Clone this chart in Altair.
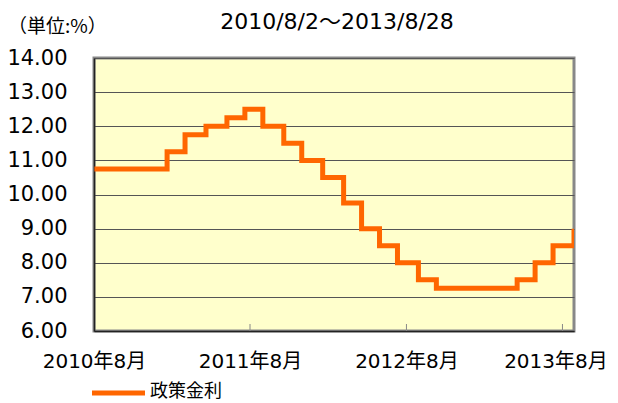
import altair as alt
import pandas as pd

dates = ["2010-08-02", "2011-01-19", "2011-03-02", "2011-04-20", "2011-06-08",
         "2011-07-20", "2011-08-31", "2011-10-19", "2011-11-30", "2012-01-18",
         "2012-03-07", "2012-04-18", "2012-05-30", "2012-07-11", "2012-08-29",
         "2012-10-10", "2013-04-17", "2013-05-29", "2013-07-10", "2013-08-28"]
rates = [10.75, 11.25, 11.75, 12.00, 12.25, 12.50, 12.00, 11.50, 11.00, 10.50,
         9.75, 9.00, 8.50, 8.00, 7.50, 7.25, 7.50, 8.00, 8.50, 9.00]
tick_dates = ["2010-08-01", "2011-08-01", "2012-08-01", "2013-08-01"]
y_ticks = [6, 7, 8, 9, 10, 11, 12, 13, 14]
series_name = "政策金利"
title_text = "2010/8/2～2013/8/28"
unit_text = "（単位:%）"

W, H = 480, 273
FONT = "DejaVu Sans, Noto Sans CJK JP"

df = pd.DataFrame({"date": dates, "rate": rates})
ticks_df = pd.DataFrame({"date": tick_dates[1:]})

xscale = alt.Scale(type="utc",
                   domain=[alt.DateTime(year=2010, month=8, date=1, utc=True),
                           alt.DateTime(year=2013, month=8, date=28, utc=True)])
yscale = alt.Scale(domain=[6, 14], nice=False, zero=False)

tick_vals = [alt.DateTime(year=int(d[:4]), month=int(d[5:7]), date=int(d[8:]), utc=True)
             for d in tick_dates]

line = alt.Chart(df).mark_line(
    interpolate="step-after", color="#FF6600", strokeWidth=5, strokeJoin="miter",
    strokeCap="butt", clip=True
).encode(
    x=alt.X("date:T", scale=xscale, title=None,
            axis=alt.Axis(values=tick_vals, format="%Y年%-m月",
                          ticks=False, grid=False, labelFontSize=20, labelFont=FONT,
                          labelColor="#000", labelPadding=20, domainColor="#222",
                          domainWidth=1.5, labelFlush=False,
                          labelOffset={"condition": {"test": "datum.value > 1356998400000",
                                                     "value": -7}, "value": 0})),
    y=alt.Y("rate:Q", scale=yscale, title=None,
            axis=alt.Axis(values=y_ticks, format=".2f",
                          ticks=False, grid=True, gridColor="#555", gridWidth=1,
                          labelFontSize=21, labelFont=FONT, labelColor="#000",
                          labelPadding=27, domainColor="#222", domainWidth=1.5)),
)

tick_marks = alt.Chart(ticks_df).mark_rule(color="#888", strokeWidth=1).encode(
    x=alt.X("date:T", scale=xscale),
    y=alt.value(H - 7), y2=alt.value(H),
)

legend_line = alt.Chart(pd.DataFrame({"k": [series_name]})).mark_rule(
    color="#FF6600", strokeWidth=5
).encode(x=alt.value(-2), x2=alt.value(51), y=alt.value(335))

legend_text = alt.Chart(pd.DataFrame({"k": [series_name]})).mark_text(
    align="left", baseline="middle", fontSize=18, font="Noto Sans CJK JP", color="#000"
).encode(text="k:N", x=alt.value(56), y=alt.value(334))

title = alt.Chart(pd.DataFrame({"t": [title_text]})).mark_text(
    align="center", baseline="middle", fontSize=22, font=FONT, color="#000"
).encode(text="t:N", x=alt.value(W / 2 + 3), y=alt.value(-36))

unit = alt.Chart(pd.DataFrame({"t": [unit_text]})).mark_text(
    align="left", baseline="middle", fontSize=19, font="Noto Sans CJK JP", color="#000"
).encode(text="t:N", x=alt.value(-86), y=alt.value(-31))

chart = alt.layer(line, tick_marks, legend_line, legend_text, title, unit).properties(
    width=W, height=H,
    autosize=alt.AutoSizeParams(type="none"),
    padding={"left": 86, "top": 50, "right": 36, "bottom": 76},
    background="white",
).configure_view(
    fill="#FFFFCC", stroke="#888", strokeWidth=3
)

chart.save("out.html", embed_options={"renderer": "svg", "actions": False})
